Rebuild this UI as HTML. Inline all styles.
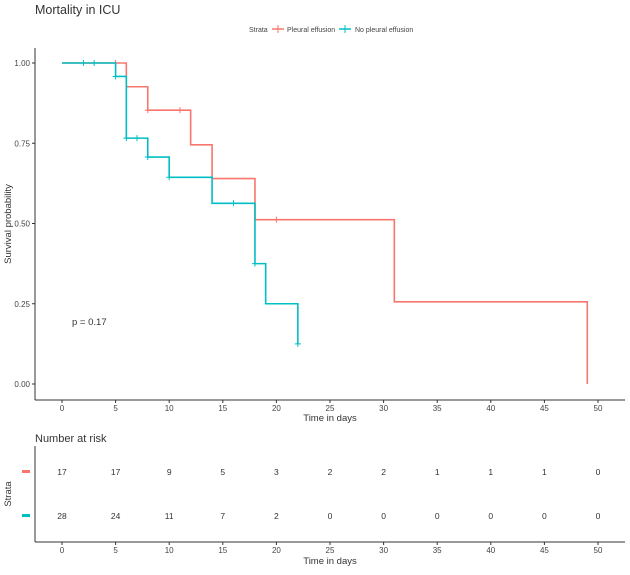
<!DOCTYPE html>
<html><head><meta charset="utf-8"><style>
body{margin:0;background:#fff;}
svg text{font-family:"Liberation Sans",sans-serif;}
</style></head><body>
<svg id="c" width="630" height="570">
<text x="35" y="14" font-size="12.5" fill="#333">Mortality in ICU</text>
<g>
<text x="249" y="32" font-size="7" fill="#444">Strata</text>
<line x1="272" y1="29" x2="284" y2="29" stroke="#F8766D" stroke-width="1.5"/><line x1="278" y1="25" x2="278" y2="33" stroke="#F8766D"/>
<text x="287" y="32" font-size="7" fill="#444">Pleural effusion</text>
<line x1="339" y1="29" x2="351" y2="29" stroke="#00BFC4" stroke-width="1.5"/><line x1="345" y1="25" x2="345" y2="33" stroke="#00BFC4"/>
<text x="355" y="32" font-size="7" fill="#444">No pleural effusion</text>
</g>
<line x1="35" y1="48" x2="35" y2="400" stroke="#333"/>
<line x1="35" y1="400" x2="625" y2="400" stroke="#333"/>
<text transform="translate(11,224) rotate(-90)" text-anchor="middle" font-size="9.5" fill="#333">Survival probability</text>
<text x="330" y="421" text-anchor="middle" font-size="9.5" fill="#333">Time in days</text>
<text x="72" y="325" font-size="9.5" fill="#333">p = 0.17</text>
<text x="35" y="442" font-size="11" fill="#333">Number at risk</text>
<line x1="35" y1="446" x2="35" y2="542" stroke="#333"/>
<line x1="35" y1="542" x2="625" y2="542" stroke="#333"/>
<text transform="translate(11,494) rotate(-90)" text-anchor="middle" font-size="9.5" fill="#333">Strata</text>
<text x="330" y="564" text-anchor="middle" font-size="9.5" fill="#333">Time in days</text>
<rect x="22" y="470" width="8" height="3" fill="#F8766D"/>
<rect x="22" y="514" width="8" height="3" fill="#00BFC4"/>
<g id="g"></g>
</svg>
<script>
const xTicks=[0,5,10,15,20,25,30,35,40,45,50];
const yTicks=[0,0.25,0.5,0.75,1];
const yTickLabels=["0.00","0.25","0.50","0.75","1.00"];
const pleuralTimes=[0,6,8,12,14,18,31,49];
const pleuralSurv=[1,0.926,0.853,0.745,0.64,0.512,0.256,0];
const pleuralCensT=[5,8,11,20];
const pleuralCensS=[1,0.853,0.853,0.512];
const noPleuralTimes=[0,5,6,8,10,14,18,19,22];
const noPleuralSurv=[1,0.958,0.766,0.707,0.644,0.563,0.375,0.25,0.125];
const noPleuralCensT=[2,3,5,6,7,8,10,16,18,22];
const noPleuralCensS=[1,1,0.958,0.766,0.766,0.707,0.644,0.563,0.375,0.125];
const riskPleural=[17,17,9,5,3,2,2,1,1,1,0];
const riskNoPleural=[28,24,11,7,2,0,0,0,0,0,0];
const X=t=>62+t*10.72, Y=s=>384-s*321;
const NS="http://www.w3.org/2000/svg", g=document.getElementById('g');
function mk(tag,at,txt){const e=document.createElementNS(NS,tag);for(const k in at)e.setAttribute(k,at[k]);if(txt!==undefined)e.textContent=txt;g.appendChild(e);return e;}
xTicks.forEach((t,i)=>{
 let e=mk('line',{x1:X(t),y1:400,x2:X(t),y2:403,stroke:'#333'});
 
 
 e=mk('text',{x:X(t),y:411,'text-anchor':'middle','font-size':8,fill:'#444'},t);
 
 
 e=mk('line',{x1:X(t),y1:542,x2:X(t),y2:545,stroke:'#333'});
 
 
 e=mk('text',{x:X(t),y:553,'text-anchor':'middle','font-size':8,fill:'#444'},t);
 
 
 e=mk('text',{x:X(t),y:475,'text-anchor':'middle','font-size':8.5,fill:'#333'},riskPleural[i]);
 
 
 e=mk('text',{x:X(t),y:519,'text-anchor':'middle','font-size':8.5,fill:'#333'},riskNoPleural[i]);
 
 
});
yTicks.forEach((s,i)=>{
 let e=mk('line',{x1:32,y1:Y(s),x2:35,y2:Y(s),stroke:'#333'});
 
 
 e=mk('text',{x:30,y:Y(s)+3,'text-anchor':'end','font-size':8,fill:'#444'},yTickLabels[i]);
 
 
});
function curve(T,S,name,col,ct,cs){
 let d='M'+X(T[0])+','+Y(S[0]);
 for(let i=1;i<T.length;i++)d+='H'+X(T[i])+'V'+Y(S[i]);
 let e=mk('path',{d:d,fill:'none',stroke:col,'stroke-width':1.6});
 
 
 ct.forEach((t,i)=>{
  const x=X(t),y=Y(cs[i]);
  e=mk('path',{d:`M${x-3},${y}H${x+3}M${x},${y-3}V${y+3}`,stroke:col,'stroke-width':1});
  
  
 });
}
curve(pleuralTimes,pleuralSurv,'pleural','#F8766D',pleuralCensT,pleuralCensS);
curve(noPleuralTimes,noPleuralSurv,'no-pleural','#00BFC4',noPleuralCensT,noPleuralCensS);
</script>
</body></html>
